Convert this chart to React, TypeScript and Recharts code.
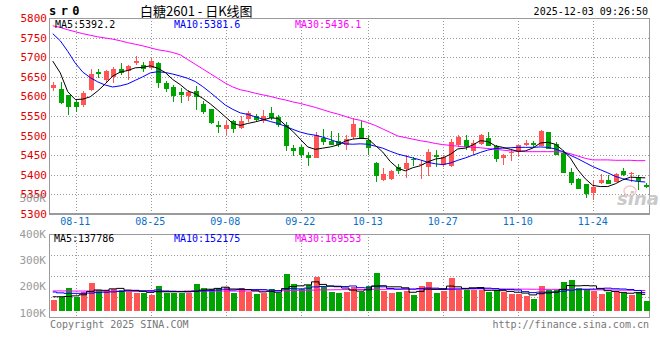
import React from 'react';
import { ComposedChart, Bar, Line, XAxis, YAxis, ReferenceLine } from 'recharts';

const MONO = '"DejaVu Sans Mono", "Liberation Mono", monospace';
const RED = '#ff5555';
const GREEN = '#00a400';
const GRID = '#999999';
const BORDER = '#9a9a9a';

const dates = [
  '08-06','08-07','08-08','08-11','08-12','08-13','08-14','08-15','08-18','08-19',
  '08-20','08-21','08-22','08-25','08-26','08-27','08-28','08-29','09-01','09-02',
  '09-03','09-04','09-05','09-08','09-09','09-10','09-11','09-12','09-15','09-16',
  '09-17','09-18','09-19','09-22','09-23','09-24','09-25','09-26','09-29','09-30',
  '10-09','10-10','10-13','10-14','10-15','10-16','10-17','10-20','10-21','10-22',
  '10-23','10-24','10-27','10-28','10-29','10-30','10-31','11-03','11-04','11-05',
  '11-06','11-07','11-10','11-11','11-12','11-13','11-14','11-17','11-18','11-19',
  '11-20','11-21','11-24','11-25','11-26','11-27','11-28','12-01','12-02','12-03',
];

const dateTicks = ['08-11','08-25','09-08','09-22','10-13','10-27','11-10','11-24'];
const priceTicks = [5300,5350,5400,5450,5500,5550,5600,5650,5700,5750,5800];
const priceGrid = [5350,5400,5450,5500,5550,5600,5650,5700,5750];
const volTicks = [100,200,300,400];
// volume panel extent (in thousands) and its inner dotted grid fractions
const volPanel = [-57.9, 636.8];
const volGridFractions = [0.25, 0.5, 0.75];

const opens = [
  5622,5620,5603,5585,5577,5617,5661,5641,5650,5671,
  5666,5684,5679,5673,5684,5634,5624,5611,5600,5614,
  5581,5567,5526,5516,5536,5520,5543,5550,5536,5557,
  5547,5526,5468,5472,5451,5443,5494,5485,5485,5477,
  5496,5520,5490,5430,5388,5390,5421,5414,5441,5424,
  5420,5451,5424,5422,5475,5490,5461,5479,5494,5473,
  5443,5456,5458,5477,5481,5473,5509,5479,5456,5407,
  5390,5376,5353,5379,5388,5382,5410,5403,5393,5375,
];
const highs = [
  5638,5636,5604,5590,5614,5670,5671,5668,5675,5684,
  5679,5702,5688,5699,5688,5639,5628,5622,5616,5626,
  5588,5569,5536,5538,5541,5549,5563,5556,5565,5572,
  5552,5535,5475,5477,5458,5508,5517,5511,5507,5501,
  5546,5536,5502,5433,5417,5413,5427,5450,5445,5437,
  5467,5464,5450,5492,5501,5502,5488,5503,5509,5475,
  5454,5462,5477,5490,5485,5515,5509,5484,5462,5417,
  5392,5377,5388,5403,5400,5405,5417,5407,5399,5379,
];
const lows = [
  5614,5581,5552,5560,5573,5615,5648,5634,5634,5654,
  5641,5679,5662,5670,5622,5611,5586,5583,5588,5565,
  5554,5529,5506,5501,5507,5518,5534,5535,5531,5541,
  5522,5460,5448,5443,5423,5443,5475,5475,5472,5464,
  5492,5492,5450,5381,5384,5387,5403,5392,5422,5390,
  5397,5421,5420,5421,5471,5462,5450,5475,5473,5433,
  5424,5435,5448,5473,5468,5473,5465,5450,5405,5373,
  5363,5341,5335,5377,5377,5382,5397,5382,5360,5366,
];
const closes = [
  5630,5583,5573,5573,5608,5656,5658,5665,5671,5660,
  5677,5690,5671,5690,5633,5620,5601,5604,5611,5598,
  5560,5532,5522,5526,5516,5536,5557,5540,5550,5544,
  5527,5473,5460,5450,5443,5501,5484,5475,5477,5492,
  5529,5492,5468,5396,5403,5410,5410,5430,5439,5427,
  5458,5445,5445,5484,5496,5471,5482,5501,5473,5441,
  5451,5458,5475,5481,5477,5513,5467,5451,5405,5379,
  5363,5350,5370,5388,5377,5401,5399,5405,5384,5369,
];
const ma5 = [
  5690,5660,5612,5592,5593,5599,5614,5632,5652,5662,
  5666,5673,5674,5678,5672,5661,5643,5630,5614,5607,
  5595,5581,5565,5548,5531,5526,5531,5535,5540,5545,
  5544,5527,5511,5491,5471,5465,5468,5471,5476,5486,
  5491,5493,5492,5475,5458,5434,5417,5410,5418,5423,
  5433,5440,5443,5452,5466,5468,5476,5487,5485,5474,
  5470,5465,5460,5461,5468,5481,5483,5478,5463,5443,
  5413,5390,5373,5370,5370,5377,5387,5394,5393,5392.2,
];
const ma10 = [
  5760,5742,5715,5685,5662,5648,5637,5629,5624,5627,
  5632,5641,5650,5660,5663,5661,5657,5652,5646,5638,
  5625,5610,5594,5578,5567,5558,5554,5548,5542,5536,
  5531,5524,5516,5509,5504,5501,5496,5490,5483,5479,
  5478,5479,5478,5473,5468,5460,5453,5448,5443,5438,
  5432,5428,5426,5430,5437,5443,5450,5457,5463,5467,
  5468,5469,5470,5470,5470,5471,5470,5466,5459,5450,
  5441,5431,5421,5413,5405,5396,5390,5386,5383,5381.6,
];
const ma30 = [
  5780,5776,5770,5765,5760,5756,5752,5749,5746,5742,
  5737,5733,5729,5724,5719,5716,5712,5706,5694,5682,
  5670,5658,5646,5634,5624,5617,5613,5608,5604,5600,
  5595,5591,5586,5582,5577,5572,5566,5560,5555,5549,
  5543,5539,5533,5526,5517,5508,5499,5495,5491,5487,
  5484,5480,5477,5475,5473,5471,5470,5469,5467,5465,
  5463,5461,5460,5459,5459,5459,5459,5459,5458,5454,
  5448,5442,5438,5438,5438,5437,5437,5437,5436,5436.1,
];

// volume in thousands of lots
const volumeK = [
  91,118,190,118,154,234,174,174,181,174,
  160,151,151,132,206,151,151,151,151,223,
  190,181,190,199,151,190,154,141,151,180,
  151,306,226,180,215,281,201,157,151,160,
  196,160,206,316,165,151,157,168,132,206,
  239,149,165,273,174,174,174,174,160,174,
  160,141,141,126,99,206,174,174,242,257,
  194,181,165,141,160,154,152,132,160,85,
];
const volMa5 = [
  118,118,120,125,134,162,174,171,183,187,
  173,168,163,154,160,159,159,159,162,165,
  173,180,187,197,182,182,177,167,158,163,
  155,185,202,208,216,241,220,207,201,190,
  173,164,175,207,209,200,200,192,155,162,
  181,179,179,206,200,187,192,194,171,171,
  168,162,155,148,133,143,149,156,179,211,
  208,210,208,187,168,161,154,147,151,137.8,
];
const volMa10 = [
  157,150,146,146,146,148,152,155,158,161,
  167,171,167,168,174,165,163,161,158,162,
  166,169,173,180,174,178,178,177,177,173,
  169,181,185,183,189,199,203,205,205,202,
  207,193,191,204,200,186,181,183,181,186,
  190,189,185,181,181,183,185,186,189,185,
  178,177,174,160,152,156,156,156,163,172,
  176,180,181,183,189,184,182,178,169,152.2,
];
const volMa30 = [
  166,166,166,165,165,165,165,165,164,164,
  164,163,163,163,163,163,163,163,164,164,
  164,164,165,165,165,165,165,165,165,165,
  166,168,170,171,172,173,174,175,176,177,
  177,178,178,179,179,180,180,180,181,181,
  181,182,182,182,183,183,183,183,183,183,
  182,182,181,181,180,180,179,179,178,178,
  177,176,175,175,174,173,172,171,170,169.6,
];

const rows = dates.map((d, i) => ({
  date: d,
  open: opens[i],
  high: highs[i],
  low: lows[i],
  close: closes[i],
  range: [lows[i], highs[i]],
  ma5: ma5[i],
  ma10: ma10[i],
  ma30: ma30[i],
  vol: volumeK[i],
  vma5: volMa5[i],
  vma10: volMa10[i],
  vma30: volMa30[i],
}));

const firstDate = dates[0];
const lastDate = dates[dates.length - 1];
const PRICE_BOTTOM = priceTicks[0];
const PRICE_TOP = priceTicks[priceTicks.length - 1];

const mod3 = (v: number) => ((v % 3) + 3) % 3;

// horizontal dotted segment across one category band (pattern aligned to page pixels)
const hDot = (key: string, x0: number, x1: number, yy: number) => {
  const yr = Math.round(yy) + 0.5;
  return (
    <line key={key} x1={x0} x2={x1} y1={yr} y2={yr} stroke={GRID} strokeWidth={1}
      strokeDasharray="1 2" strokeDashoffset={mod3(x0)} shapeRendering="crispEdges" />
  );
};
const vDot = (key: string, xc: number, y0: number, y1: number) => (
  <line key={key} x1={xc + 0.5} x2={xc + 0.5} y1={y0} y2={y1} stroke={GRID} strokeWidth={1}
    strokeDasharray="1 2" strokeDashoffset={mod3(y0)} shapeRendering="crispEdges" />
);

// Panel frame + grid for one band, then the mark itself
const frame = (payload: any, x0: number, x1: number, c: number, yT: number, yB: number, inner: number[]) => {
  const els: any[] = [];
  inner.forEach((yy, k) => els.push(hDot('g' + k, x0, x1, yy)));
  if (dateTicks.includes(payload.date)) els.push(vDot('v', c, yT, yB));
  els.push(<rect key="top" x={x0} y={yT} width={x1 - x0} height={1} fill={BORDER} />);
  els.push(<rect key="bot" x={x0} y={yB - 1} width={x1 - x0} height={2} fill={BORDER} />);
  if (payload.date === firstDate) els.push(<rect key="l" x={x0} y={yT} width={1} height={yB - yT} fill={BORDER} />);
  if (payload.date === lastDate) els.push(<rect key="r" x={x1 - 1} y={yT} width={1} height={yB - yT} fill={BORDER} />);
  return els;
};

const Candle = (props: any) => {
  const { x, y, width, height, payload } = props;
  if (x == null || y == null || !payload) return null;
  const { open, close, high, low } = payload;
  const color = close >= open ? RED : GREEN;
  const yTop = Math.min(y, y + height);
  const h = Math.abs(height);
  const span = high - low;
  const yOf = (v: number) => (span === 0 ? yTop : yTop + ((high - v) / span) * h);
  const x0 = Math.round(x);
  const x1 = Math.round(x + width);
  const c = Math.round(x + width / 2);
  const yT = Math.round(yOf(PRICE_TOP));
  const yB = Math.round(yOf(PRICE_BOTTOM));
  const bTop = Math.round(yOf(Math.max(open, close)));
  const bBot = Math.round(yOf(Math.min(open, close)));
  return (
    <g>
      {frame(payload, x0, x1, c, yT, yB, priceGrid.map(yOf))}
      <rect x={c} y={Math.round(yTop)} width={1} height={Math.max(1, Math.round(yTop + h) - Math.round(yTop))} fill={color} />
      <rect x={c - 2} y={bTop} width={5} height={Math.max(1, bBot - bTop)} fill={color} />
    </g>
  );
};

const VolBar = (props: any) => {
  const { x, y, width, height, payload } = props;
  if (x == null || y == null || !payload || !payload.vol) return null;
  const color = payload.close >= payload.open ? RED : GREEN;
  const yTop = Math.min(y, y + height);
  const yZero = Math.max(y, y + height);
  const k = (yZero - yTop) / payload.vol;
  const yOf = (v: number) => yZero - v * k;
  const x0 = Math.round(x);
  const x1 = Math.round(x + width);
  const c = Math.round(x + width / 2);
  const yT = Math.round(yOf(volPanel[1]));
  const yB = Math.round(yOf(volPanel[0]));
  const inner = volGridFractions.map((f) => yOf(volPanel[0] + (volPanel[1] - volPanel[0]) * f));
  return (
    <g>
      {frame(payload, x0, x1, c, yT, yB, inner)}
      <rect x={c - 2} y={Math.round(yTop)} width={6} height={Math.max(1, Math.round(yZero) - Math.round(yTop))} fill={color} />
    </g>
  );
};

const T = (p: any) => (
  <text
    x={p.x}
    y={p.y}
    fill={p.fill || '#000'}
    fontSize={p.size || 10}
    fontFamily={p.font || MONO}
    fontWeight={p.weight || 'normal'}
    textAnchor={p.anchor || 'start'}
    letterSpacing={p.ls}
    fontStyle={p.italic ? 'italic' : 'normal'}
  >
    {p.children}
  </text>
);

const topOf = (vb: any) => Math.min(vb.y, vb.y + (vb.height || 0));

const dateLabel = (d: string) => (props: any) => {
  const vb = props.viewBox || {};
  return (
    <text x={vb.x + (vb.width || 0) / 2} y={topOf(vb) - 8.5} textAnchor="middle" fill="#0a6fc8" fontSize={10} fontFamily={MONO}>
      {d}
    </text>
  );
};

const volLabel = (v: number) => (props: any) => {
  const vb = props.viewBox || {};
  return (
    <text x={vb.x - 3} y={topOf(vb) + 4} textAnchor="end" fill="#9a9a9a" fontSize={11} fontFamily={MONO}>
      {`${v}K`}
    </text>
  );
};

export default function App() {
  return (
    <div style={{ position: 'absolute', left: 0, top: 0, width: 660, height: 360, background: '#fff' }}>
      <ComposedChart width={660} height={330} data={rows} barCategoryGap={0} barGap={0}
        margin={{ top: 18, right: 11, bottom: 12, left: 7 }}>
        <XAxis xAxisId="x" dataKey="date" hide height={0} />
        <XAxis xAxisId="xv" dataKey="date" hide height={0} />
        <YAxis
          yAxisId="p"
          domain={[5034.69, 5800]}
          allowDataOverflow
          ticks={priceTicks}
          interval={0}
          width={42}
          tickLine={false}
          axisLine={false}
          tickSize={0}
          tickMargin={2}
          tick={{ fill: '#e40000', fontSize: 11, fontFamily: MONO }}
        />
        <YAxis yAxisId="lab" hide width={0} domain={[79.4, 1224.4]} allowDataOverflow />
        <YAxis yAxisId="v" hide width={0} domain={[-57.9, 2423.1]} allowDataOverflow />
        <YAxis yAxisId="g" hide width={0} domain={[0, 14.2857]} allowDataOverflow />

        <Bar xAxisId="x" yAxisId="p" dataKey="range" shape={<Candle />} isAnimationActive={false} />
        <Bar xAxisId="xv" yAxisId="v" dataKey="vol" shape={<VolBar />} isAnimationActive={false} />

        <Line xAxisId="x" yAxisId="p" type="linear" dataKey="ma30" stroke="#ff00ff" strokeWidth={1} dot={false} activeDot={false} isAnimationActive={false} />
        <Line xAxisId="x" yAxisId="p" type="linear" dataKey="ma10" stroke="#0000ff" strokeWidth={1} dot={false} activeDot={false} isAnimationActive={false} />
        <Line xAxisId="x" yAxisId="p" type="linear" dataKey="ma5" stroke="#000000" strokeWidth={1} dot={false} activeDot={false} isAnimationActive={false} />
        <Line xAxisId="xv" yAxisId="v" type="step" dataKey="vma30" stroke="#ff00ff" strokeWidth={1} dot={false} activeDot={false} isAnimationActive={false} />
        <Line xAxisId="xv" yAxisId="v" type="step" dataKey="vma10" stroke="#0000ff" strokeWidth={1} dot={false} activeDot={false} isAnimationActive={false} />
        <Line xAxisId="xv" yAxisId="v" type="step" dataKey="vma5" stroke="#000000" strokeWidth={1} dot={false} activeDot={false} isAnimationActive={false} />

        {dateTicks.map((d) => (
          <ReferenceLine
            key={'dl' + d}
            xAxisId="x"
            yAxisId="g"
            segment={[{ x: d, y: 4 }, { x: d, y: 0 }]}
            stroke="none"
            label={dateLabel(d)}
          />
        ))}
        {volTicks.map((v) => (
          <ReferenceLine key={'vl' + v} xAxisId="x" yAxisId="lab" y={v} stroke="none" label={volLabel(v)} />
        ))}
      </ComposedChart>
      <svg width={660} height={360} style={{ position: 'absolute', left: 0, top: 0, pointerEvents: 'none' }}>
        <T x={49} y={15} size={12} weight="bold" ls={-1.4}>s r 0</T>
        <T x={140} y={15.5} size={13} font={'"Noto Sans CJK SC", sans-serif'}>白糖2601 - 日K线图</T>
        <T x={648} y={15} anchor="end">2025-12-03 09:26:50</T>
        <T x={55} y={27.5}>MA5:5392.2</T>
        <T x={174} y={27.5} fill="#0000ff">MA10:5381.6</T>
        <T x={295} y={27.5} fill="#ff00ff">MA30:5436.1</T>
        <T x={46} y={201.5} size={11} anchor="end" fill="#9a9a9a">500K</T>
        <T x={54} y={241.8}>MA5:137786</T>
        <T x={174} y={241.8} fill="#0000ff">MA10:152175</T>
        <T x={295} y={241.8} fill="#ff00ff">MA30:169553</T>
        <T x={50} y={327.5} fill="#777">Copyright 2025 SINA.COM</T>
        <T x={649} y={327.5} anchor="end" fill="#777">http://finance.sina.com.cn</T>
        <ellipse cx={630} cy={191} rx={6} ry={5} fill="none" stroke="#f2b8b8" strokeWidth={1.5} opacity={0.8} />
        <T x={617} y={205} size={18} weight="bold" italic fill="#c9c9c9" font={'"DejaVu Sans", sans-serif'}>sina</T>
      </svg>
    </div>
  );
}
